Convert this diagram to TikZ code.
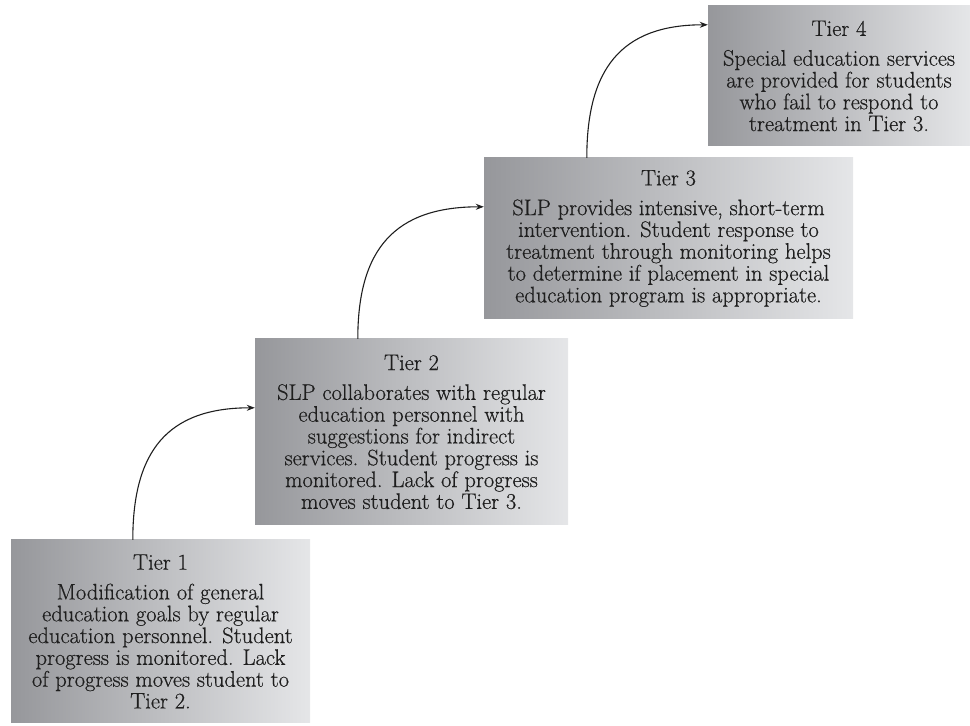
\documentclass[tikz,border=0pt]{standalone}
\usepackage{fontspec}
\usetikzlibrary{arrows.meta,shadings}
\newfontfamily\tierfont{Latin Modern Roman}[FakeBold=0.5]
\definecolor{tierdark}{RGB}{150,151,155}
\definecolor{tierlight}{RGB}{229,230,232}
\definecolor{inktext}{RGB}{30,30,30}
\begin{document}
\begin{tikzpicture}[x=1pt,y=1pt,
  tierbox/.style={rectangle, inner sep=0pt, left color=tierdark, right color=tierlight,
    align=center, text=inktext, font=\tierfont\fontsize{22.5}{21.8}\selectfont},
  tierlink/.style={line width=1.1pt, draw=inktext, -{Stealth[length=8pt,width=6pt]},
    out=90, in=180, looseness=1.25}]
\useasboundingbox (0,0) rectangle (970,726);

% the four tiers, rising from bottom left to top right
\node[tierbox, minimum width=299pt, minimum height=183pt] (t1) at (160.5,94.5)
  {Tier 1\\[8pt]
   Modification of general\\
   education goals by regular\\
   education personnel. Student\\
   progress is monitored. Lack\\
   of progress moves student to\\
   Tier 2.};

\node[tierbox, minimum width=313pt, minimum height=186pt] (t2) at (411.5,294)
  {Tier 2\\[8pt]
   SLP collaborates with regular\\
   education personnel with\\
   suggestions for indirect\\
   services. Student progress is\\
   monitored. Lack of progress\\
   moves student to Tier 3.};

\node[tierbox, minimum width=369pt, minimum height=161pt] (t3) at (668.5,487.5)
  {Tier 3\\[8pt]
   SLP provides intensive, short-term\\
   intervention. Student response to\\
   treatment through monitoring helps\\
   to determine if placement in special\\
   education program is appropriate.};

\node[tierbox, minimum width=262pt, minimum height=140pt] (t4) at (839,650)
  {Tier 4\\[8pt]
   Special education services\\
   are provided for students\\
   who fail to respond to\\
   treatment in Tier 3.};

% curved links from the top of each tier to the side of the next
\draw[tierlink] ([xshift=122pt]t1.north west) to ([yshift=-69pt]t2.north west);
\draw[tierlink] ([xshift=103pt]t2.north west) to ([yshift=-49pt]t3.north west);
\draw[tierlink] ([xshift=103pt]t3.north west) to ([yshift=-19pt]t4.north west);
\end{tikzpicture}
\end{document}
